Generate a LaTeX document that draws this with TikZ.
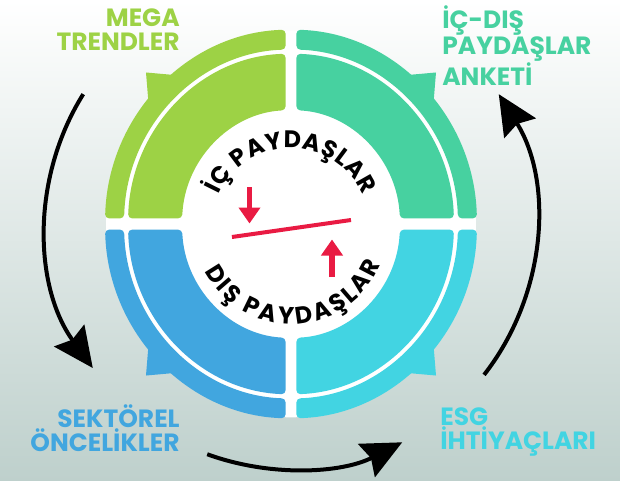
\documentclass[tikz,border=0pt]{standalone}
\usepackage{fontspec}
\setmainfont{Poppins}
\usetikzlibrary{arrows.meta,decorations.text}

\definecolor{megagreen}{RGB}{157,210,69}
\definecolor{anketgreen}{RGB}{71,209,160}
\definecolor{sektorblue}{RGB}{65,166,223}
\definecolor{esgcyan}{RGB}{66,212,226}
\definecolor{rougevif}{RGB}{233,27,67}
\definecolor{fondmilieu}{RGB}{238,242,244}
\definecolor{fondbas}{RGB}{190,208,204}

\newcommand{\anneau}{\bfseries\fontsize{13.6}{13}\selectfont}

\tikzset{
  etiquette/.style={font=\bfseries\fontsize{14.2}{14}\selectfont, inner sep=0pt},
  fleche/.style={line width=0.08cm, -{Stealth[length=0.8cm,width=0.74cm,inset=0.1cm]}},
  barre/.style={rougevif, line width=0.08cm},
  flecherouge/.style={rougevif, line width=0.12cm, -{Triangle[length=0.32cm,width=0.42cm]}}
}

\begin{document}
\begin{tikzpicture}[x=0.02cm,y=0.02cm]
% le fond
\shade[top color=white, middle color=fondmilieu, bottom color=fondbas] (0,0) rectangle (620,-481);
\useasboundingbox (0,0) rectangle (620,-481);

% les quadrants
\begin{scope}[shift={(291,-224)}, yscale=1.045]
  \fill[white] (0,0) circle[radius=185];
  \foreach \ang/\col in {0/anketgreen, 90/megagreen, 180/sektorblue, 270/esgcyan}
  {
    \fill[\col, rotate=\ang] (145,145) -- (142,110) -- (110,142) -- cycle;
    \fill[\col, rounded corners=0.08cm]
      ({\ang+asin(5.4/186)}:186) arc[start angle={\ang+asin(5.4/186)}, end angle={\ang+90-asin(5.4/186)}, radius=186]
      -- ({\ang+90-asin(5.4/167)}:167) arc[start angle={\ang+90-asin(5.4/167)}, end angle={\ang+asin(5.4/167)}, radius=167]
      -- cycle;
    \fill[\col, rounded corners=0.08cm]
      ({\ang+asin(5.4/163)}:163) arc[start angle={\ang+asin(5.4/163)}, end angle={\ang+90-asin(5.4/163)}, radius=163]
      -- ({\ang+90-asin(5.4/109)}:109) arc[start angle={\ang+90-asin(5.4/109)}, end angle={\ang+asin(5.4/109)}, radius=109]
      -- cycle;
  }
\end{scope}

% le centre
\begin{scope}[shift={(291,-227)}]
  \path[decorate, decoration={text along path, text align=fit to path,
        text={|\anneau|İÇ PAYDAŞLAR}}]
    (156:79) arc[start angle=156, end angle=24, radius=79];
  \path[decorate, decoration={text along path, text align=fit to path,
        text={|\anneau|DIŞ PAYDAŞLAR}}]
    (207:97) arc[start angle=207, end angle=337, radius=97];
\end{scope}

\coordinate (barreG) at (232,-237);
\coordinate (barreD) at (351,-220);
\coordinate (internDepart) at (249.5,-187);
\coordinate (internPointe) at (249.5,-223.5);
\coordinate (externDepart) at (332,-277);
\coordinate (externPointe) at (332,-239.5);
\draw[barre] (barreG) -- (barreD);
\draw[flecherouge] (internDepart) -- (internPointe);
\draw[flecherouge] (externDepart) -- (externPointe);

% les etiquettes
\node[etiquette, text=megagreen, align=right, anchor=north east] (mega) at (180,-8) {MEGA\\TRENDLER};
\node[etiquette, text=anketgreen, align=left, anchor=north west] (anket) at (442,-5) {İÇ-DIŞ\\PAYDAŞLAR\\ANKETİ};
\node[etiquette, text=sektorblue, align=right, anchor=north east] (sektorel) at (180,-404) {SEKTÖREL\\ÖNCELİKLER};
\node[etiquette, text=esgcyan, align=left, anchor=north west] (esg) at (440,-407) {ESG\\İHTİYAÇLARI};

% les fleches du cycle
\begin{scope}[shift={(291,-224)}]
  \coordinate (megaDepart) at (148:245);
  \coordinate (sektorDepart) at (250:245);
  \coordinate (esgDepart) at (-38:245);
  \draw[fleche] (megaDepart) arc[start angle=148, end angle=216, radius=245];
  \draw[fleche] (sektorDepart) arc[start angle=250, end angle=297, radius=245];
  \draw[fleche] (esgDepart) arc[start angle=-38, end angle=32, radius=245];
\end{scope}
\end{tikzpicture}
\end{document}
